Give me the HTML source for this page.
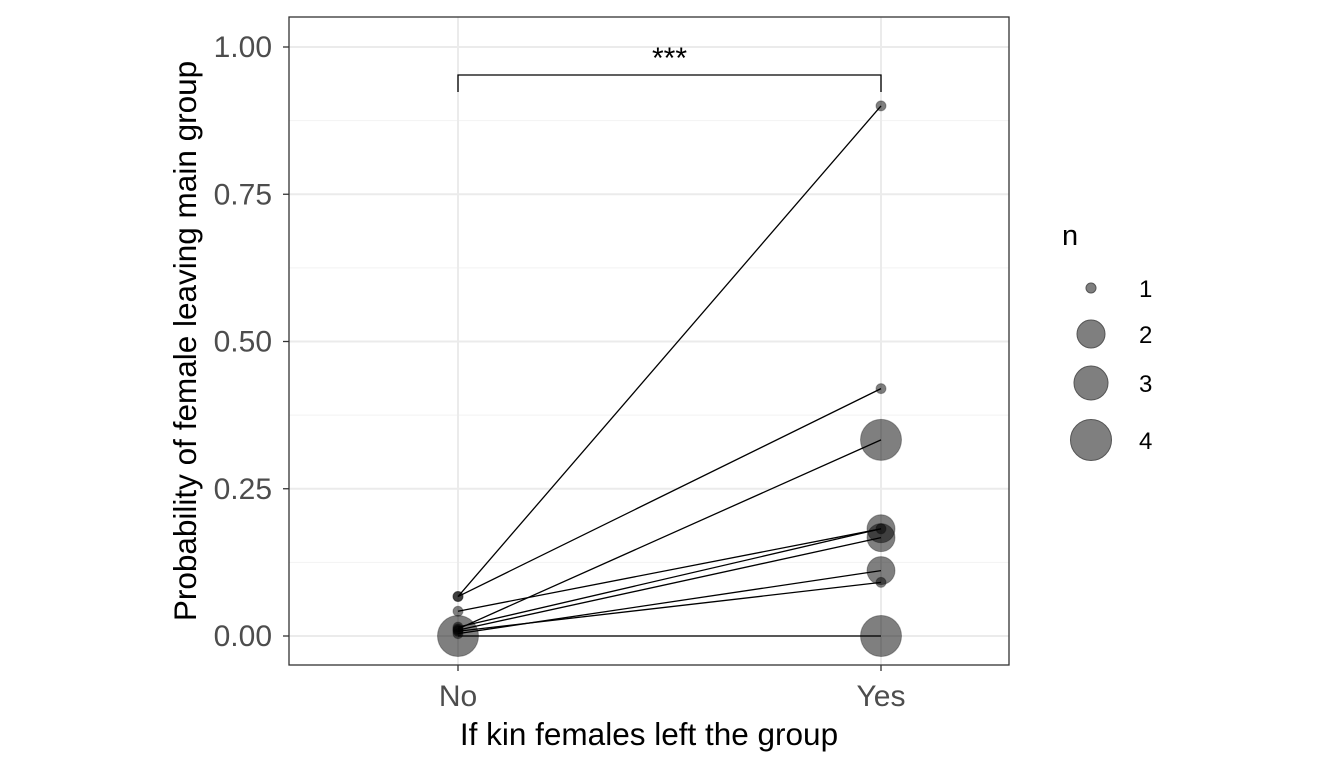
<!DOCTYPE html>
<html><head><meta charset="utf-8"><style>
body{margin:0;background:#fff;font-family:"Liberation Sans",sans-serif}
</style></head><body>
<svg id="c" width="1344" height="768" xmlns="http://www.w3.org/2000/svg"></svg>
<script>
const categories=["No","Yes"];
const leftValues=[0.067,0.067,0.012,0.042,0.015,0.010,0.004,0.008,0.0];
const rightValues=[0.90,0.42,0.333,0.182,0.182,0.167,0.111,0.091,0.0];
const nLeft=[1,1,1,1,1,1,1,1,4];
const nRight=[1,1,4,1,2,2,2,1,4];
const yTicks=[0,0.25,0.5,0.75,1.0];
const yTickLabels=["0.00","0.25","0.50","0.75","1.00"];
const legendN=[1,2,3,4];
const NS="http://www.w3.org/2000/svg";
const svg=document.getElementById('c');
const X0=289,X1=1009,Y0=17,Y1=665;
const xs=v=>[458,881][v];
const ys=v=>636-v*589;
const rs=n=>[0,5,14,17,20.5][n];
function el(t,a,p){const e=document.createElementNS(NS,t);for(const k in a)e.setAttribute(k,a[k]);(p||svg).appendChild(e);return e;}
let r=el('rect',{x:X0,y:Y0,width:X1-X0,height:Y1-Y0,fill:'#fff'});

for(let i=0;i<yTicks.length-1;i++){let g=el('line',{x1:X0,x2:X1,y1:ys((yTicks[i]+yTicks[i+1])/2),y2:ys((yTicks[i]+yTicks[i+1])/2),stroke:'#f2f2f2','stroke-width':1});}
yTicks.forEach((t,i)=>{let g=el('line',{x1:X0,x2:X1,y1:ys(t),y2:ys(t),stroke:'#ebebeb','stroke-width':2});
let tk=el('line',{x1:X0-6,x2:X0,y1:ys(t),y2:ys(t),stroke:'#333','stroke-width':1.3});
let tx=el('text',{x:X0-17,y:ys(t)+10,'text-anchor':'end','font-size':30,fill:'#4d4d4d'});tx.textContent=yTickLabels[i];});
categories.forEach((c,i)=>{let g=el('line',{x1:xs(i),x2:xs(i),y1:Y0,y2:Y1,stroke:'#ebebeb','stroke-width':2});
let tk=el('line',{x1:xs(i),x2:xs(i),y1:Y1,y2:Y1+6,stroke:'#333','stroke-width':1.3});
let tx=el('text',{x:xs(i),y:Y1+41,'text-anchor':'middle','font-size':30,fill:'#4d4d4d'});tx.textContent=c;});
leftValues.forEach((v,i)=>{let l=el('line',{x1:xs(0),y1:ys(v),x2:xs(1),y2:ys(rightValues[i]),stroke:'#000','stroke-width':1.3});});
leftValues.forEach((v,i)=>{[[0,v,nLeft[i]],[1,rightValues[i],nRight[i]]].forEach(([k,val,n])=>{let p=el('circle',{cx:xs(k),cy:ys(val),r:rs(n),fill:'rgba(0,0,0,0.5)',stroke:'rgba(0,0,0,0.3)','stroke-width':1});});});
let fr=el('rect',{x:X0,y:Y0,width:X1-X0,height:Y1-Y0,fill:'none',stroke:'#333','stroke-width':1.3});
let br=el('path',{d:`M${xs(0)},92 V75 H${xs(1)} V92`,fill:'none',stroke:'#000','stroke-width':1.3});
let st=el('text',{x:(xs(0)+xs(1))/2,y:68,'text-anchor':'middle','font-size':30});st.textContent='***';
let xt=el('text',{x:649,y:745,'text-anchor':'middle','font-size':31.5});xt.textContent='If kin females left the group';
let yt=el('text',{x:0,y:0,'text-anchor':'middle','font-size':31.5,transform:'translate(196,341) rotate(-90)'});yt.textContent='Probability of female leaving main group';
let lt=el('text',{x:1062,y:245,'font-size':29});lt.textContent='n';
const ly=[288,334,383,440];
legendN.forEach((n,i)=>{let c=el('circle',{cx:1091,cy:ly[i],r:rs(n),fill:'#7f7f7f',stroke:'#555','stroke-width':1});
let t=el('text',{x:1139,y:ly[i]+9,'font-size':24});t.textContent=n;});
</script>
</body></html>
